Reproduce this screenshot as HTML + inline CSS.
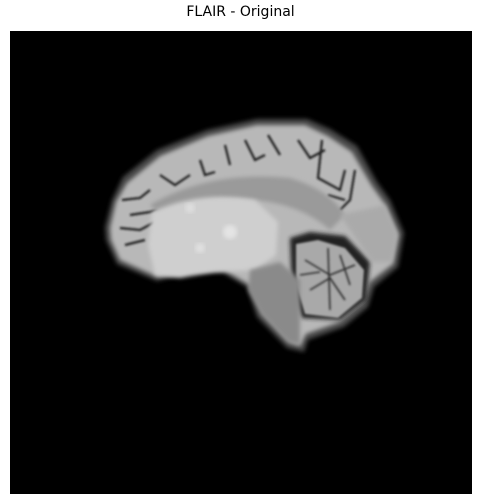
<!DOCTYPE html>
<html><head><meta charset="utf-8"><style>
html,body{margin:0;padding:0;background:#fff;width:481px;height:504px;overflow:hidden}
#t{position:absolute;left:0;width:481px;top:4px;text-align:center;font:14px "DejaVu Sans","Liberation Sans",sans-serif;color:#000}
svg{position:absolute;left:0;top:0}
</style></head><body>
<div id="t">FLAIR - Original</div>
<svg width="481" height="504">
<defs>
<filter id="b2"><feGaussianBlur stdDeviation="2"/></filter>
<filter id="b1"><feGaussianBlur stdDeviation="1"/></filter>
</defs>
<rect x="10" y="31" width="462" height="463" fill="#000"/>
<g>
<path filter="url(#b2)" fill="#4a4a4a" d="M105,227 L112,200 L123,177 L157,150 L207,130 L257,119 L307,119 L330,129 L357,146 L377,182 L390,200 L404,233 L398,267 L374,287 L368,307 L344,327 L308,340 L304,352 L287,348 L257,317 L247,287 L223,273 L190,273 L157,281 L117,264 L106,240 Z"/>
<path filter="url(#b2)" fill="#b8b8b8" d="M110,228 L116,202 L127,183 L160,156 L208,136 L257,125 L305,125 L328,136 L352,152 L372,186 L385,204 L398,234 L393,264 L370,282 L363,303 L340,322 L306,334 L300,346 L289,342 L262,313 L250,285 L224,270 L190,270 L158,277 L120,260 L111,240 Z"/>
<path filter="url(#b1)" fill="none" stroke="#1c1c1c" stroke-width="2.2" d="M122,200 L140,198 L150,190 M130,215 L150,212 L170,205 M120,228 L140,230 L155,222 M125,245 L145,240 M160,175 L175,185 L190,175 M200,160 L205,175 L215,172 M225,145 L230,165 M245,140 L255,160 L265,155 M268,135 L280,155 M298,140 L310,158 L325,150 M322,140 L318,178 L340,190 L345,170 M355,170 L350,200 L340,210 M328,195 L345,200"/>
<path filter="url(#b2)" fill="#9a9a9a" d="M150,205 Q210,170 290,178 Q330,190 345,215 L330,230 Q290,195 220,200 Q180,205 160,215 Z"/>
<path filter="url(#b2)" fill="#cfcfcf" d="M152,212 Q200,190 255,200 L278,222 L276,255 L255,270 L215,272 L180,278 L155,275 L148,245 Z"/>
<circle cx="230" cy="232" r="7" fill="#e4e4e4" filter="url(#b2)"/>
<circle cx="200" cy="248" r="5" fill="#e0e0e0" filter="url(#b2)"/>
<circle cx="190" cy="208" r="5" fill="#dedede" filter="url(#b2)"/>
<path filter="url(#b2)" fill="#222" d="M290,238 L310,232 L345,236 L370,262 L366,300 L340,320 L302,318 L292,290 Z"/>
<path filter="url(#b1)" fill="#a9a9a9" d="M296,244 L318,240 L345,248 L364,270 L362,298 L338,318 L305,314 L296,285 Z"/>
<path filter="url(#b1)" fill="none" stroke="#2a2a2a" stroke-width="1.6" d="M305,260 L330,275 L355,265 M310,290 L330,278 L345,300 M328,248 L330,310 M300,275 L320,272 M340,255 L350,285"/>
<path filter="url(#b2)" fill="#8a8a8a" d="M250,270 L280,262 L300,280 L300,345 L288,342 L262,315 L248,290 Z"/>
<path filter="url(#b2)" fill="#aaaaaa" d="M340,215 L385,205 L398,235 L392,262 L372,262 Z"/>
</g>
</svg>
</body></html>
